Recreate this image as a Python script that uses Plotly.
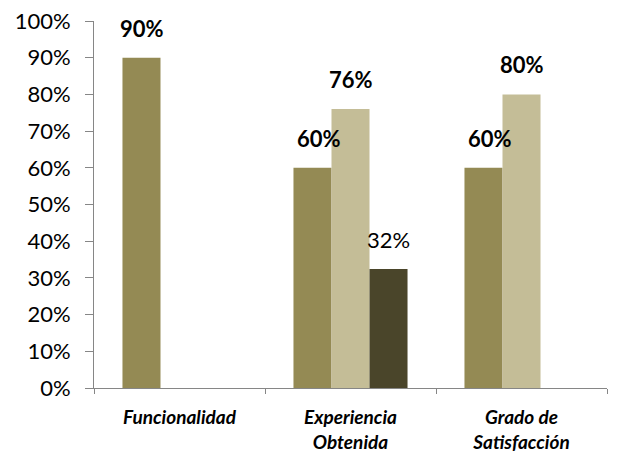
import plotly.graph_objects as go

categories = ["Funcionalidad", "Experiencia<br>Obtenida", "Grado de<br>Satisfacción"]
series_names = ["Serie 1", "Serie 2", "Serie 3"]
series_values = [
    [0.90, 0.60, 0.60],
    [None, 0.76, 0.80],
    [None, 0.324, None],
]
series_labels = [
    ["90%", "60%", "60%"],
    [None, "76%", "80%"],
    [None, "32%", None],
]
series_bold = [True, True, False]
colors = ["#948A54", "#C4BD97", "#4A452A"]
y_ticks = [i / 10 for i in range(11)]
y_tick_labels = [f"{i*10}%" for i in range(11)]

FONT = "Lato"
fig = go.Figure()
for name, vals, col in zip(series_names, series_values, colors):
    fig.add_trace(go.Bar(x=categories, y=vals, name=name, marker_color=col,
                         marker_line_width=0))

bar_px = 38
for si, (vals, labs, bold) in enumerate(zip(series_values, series_labels, series_bold)):
    for ci, (v, lab) in enumerate(zip(vals, labs)):
        if v is None:
            continue
        fig.add_annotation(x=categories[ci], y=v, text=f"<b>{lab}</b>" if bold else lab,
                           showarrow=False, yanchor="bottom", yshift=14,
                           xshift=(si - 1) * bar_px + (6 if (bold and si == 0 and ci > 0) else 0),
                           font=dict(family=FONT, size=22, color="#000000"))

fig.update_layout(
    width=621, height=451,
    margin=dict(l=86, r=22, t=13, b=71),
    paper_bgcolor="white", plot_bgcolor="white",
    showlegend=False, barmode="group", bargap=0.333, bargroupgap=0,
    font=dict(family=FONT, color="#000000"),
)
fig.update_yaxes(range=[0, 1], tickvals=y_ticks, ticktext=y_tick_labels, automargin=False,
                 ticklabeloverflow="allow", ticklabelstandoff=10,
                 showgrid=False, showline=True, linecolor="#868686", linewidth=1,
                 ticks="outside", ticklen=8, tickcolor="#868686",
                 tickfont=dict(family=FONT, size=22, color="#000000"), zeroline=False)
fig.update_xaxes(showgrid=False, showline=True, linecolor="#868686", linewidth=1,
                 automargin=False, ticklabelstandoff=12, ticklabeloverflow="allow",
                 ticks="outside", ticklen=5, tickcolor="#868686", tickson="boundaries",
                 tickfont=dict(family=FONT, size=19, color="#000000"))
fig.for_each_xaxis(lambda a: a.update(ticktext=[f"<b><i>{c}</i></b>" for c in categories],
                                      tickvals=categories))
fig.write_html("out.html")
